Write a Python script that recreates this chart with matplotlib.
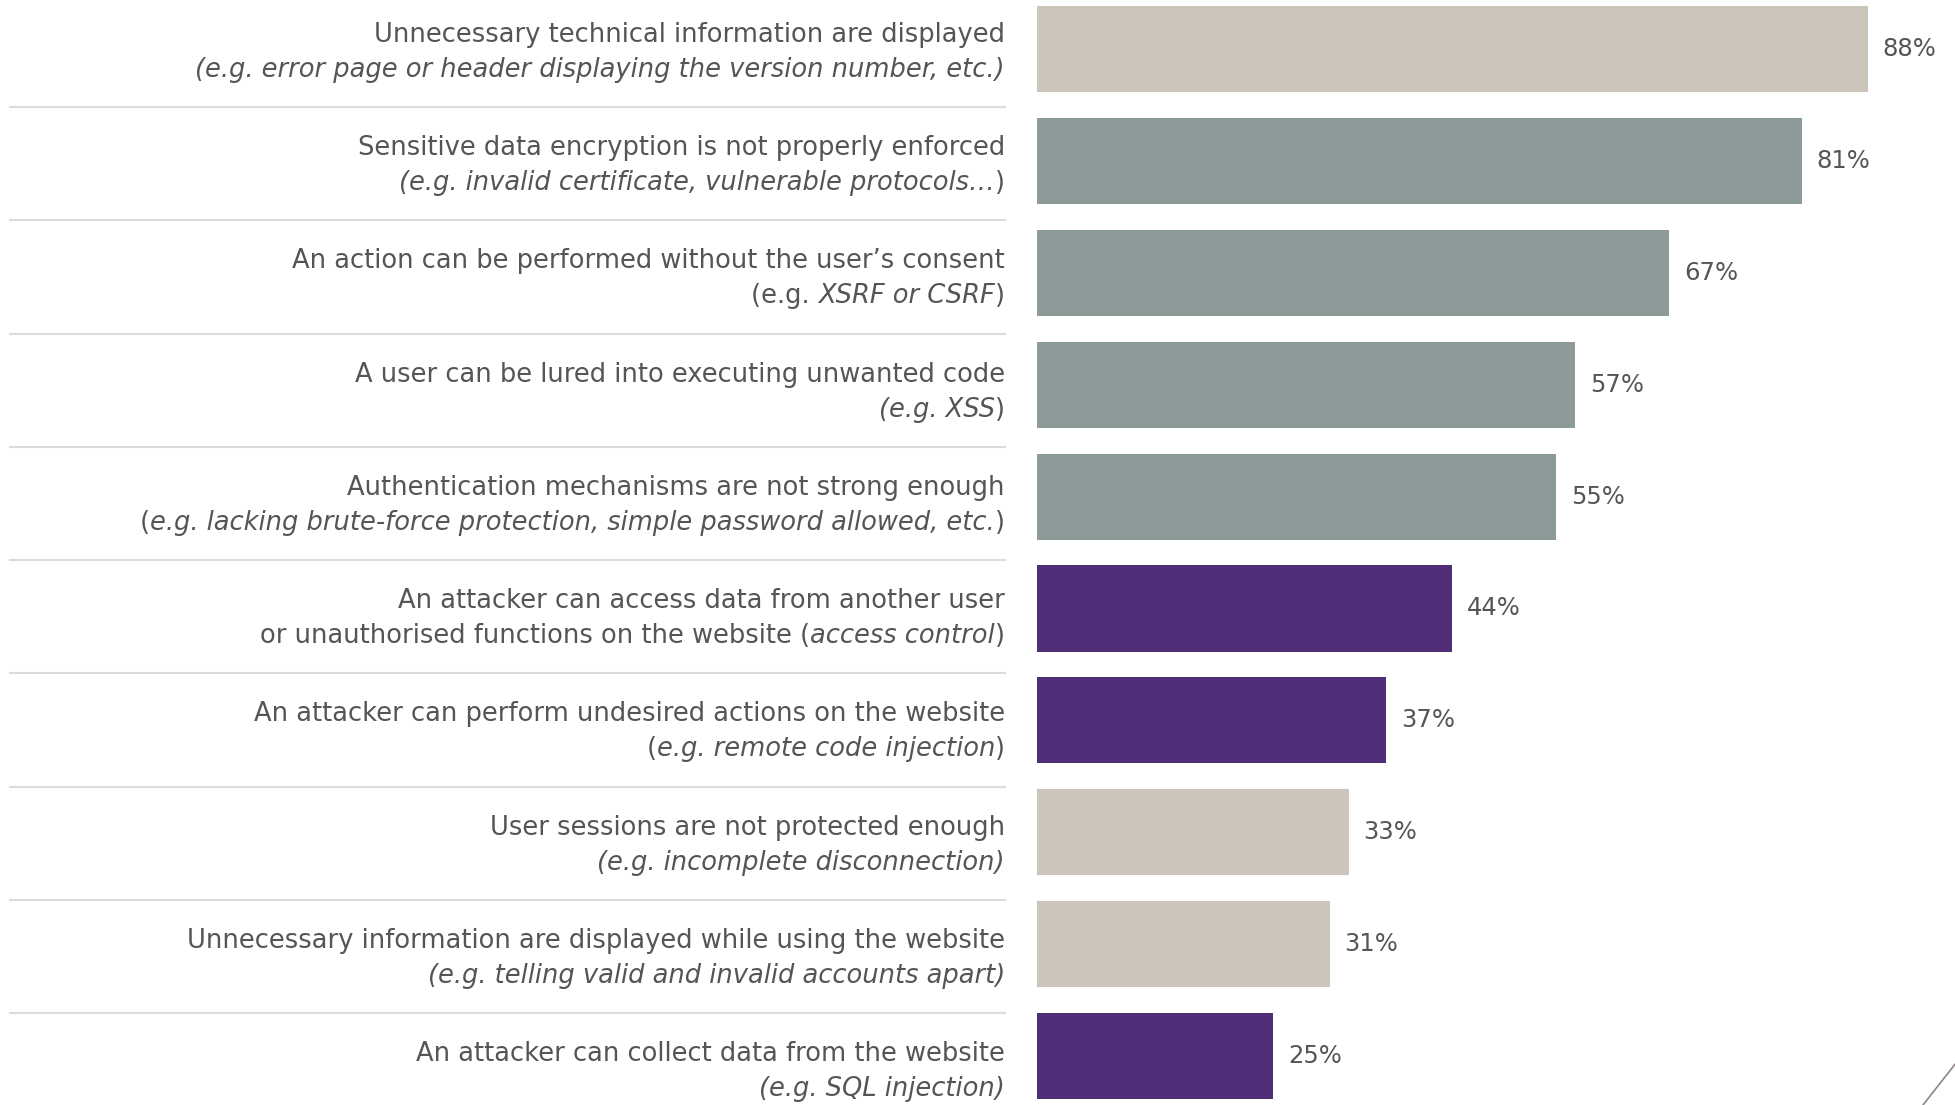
import matplotlib
matplotlib.use("Agg")
import matplotlib.pyplot as plt
from matplotlib.lines import Line2D

# values (percent of websites)
values = [88, 81, 67, 57, 55, 44, 37, 33, 31, 25]
value_labels = ["88%", "81%", "67%", "57%", "55%", "44%", "37%", "33%", "31%", "25%"]
bar_colors = ["#CCC5B9", "#8C9B9A", "#8C9B9A", "#8C9B9A", "#8C9B9A",
              "#4F2D77", "#4F2D77", "#CCC5B9", "#CCC5B9", "#4F2D77"]

# each label: first line (upright), second line as (text, italic?) pieces
titles = [
    "Unnecessary technical information are displayed",
    "Sensitive data encryption is not properly enforced",
    "An action can be performed without the user\u2019s consent",
    "A user can be lured into executing unwanted code",
    "Authentication mechanisms are not strong enough",
    "An attacker can access data from another user",
    "An attacker can perform undesired actions on the website",
    "User sessions are not protected enough",
    "Unnecessary information are displayed while using the website",
    "An attacker can collect data from the website",
]
details = [
    [("(e.g. error page or header displaying the version number, etc.)", True)],
    [("(e.g. invalid certificate, vulnerable protocols\u2026", True), (")", False)],
    [("(e.g. ", False), ("XSRF or CSRF", True), (")", False)],
    [("(e.g. XSS", True), (")", False)],
    [("(", False), ("e.g. lacking brute-force protection, simple password allowed, etc.", True), (")", False)],
    [("or unauthorised functions on the website (", False), ("access control", True), (")", False)],
    [("(", False), ("e.g. remote code injection", True), (")", False)],
    [("(e.g. incomplete disconnection)", True)],
    [("(e.g. telling valid and invalid accounts apart)", True)],
    [("(e.g. SQL injection)", True)],
]

W, H = 1956, 1105
TEXT = "#555555"
FS = 18.5
plt.rcParams["font.family"] = ["DejaVu Sans"]

fig = plt.figure(figsize=(W / 100, H / 100), dpi=100)

# bar area: left edge at px 1037, ~9.44 px per percent, bar pitch ~111.9 px
pitch = 111.9
top = 49 - pitch / 2
ax = fig.add_axes([1037 / W, (H - (top + pitch * 10)) / H, 944 / W, pitch * 10 / H])
ypos = list(range(len(values)))
ax.barh(ypos, values, height=0.77, color=bar_colors)
ax.set_xlim(0, 100)
ax.set_ylim(9.5, -0.5)
ax.axis("off")
for y, v, lab in zip(ypos, values, value_labels):
    ax.annotate(lab, (v, y), xytext=(15, 0), textcoords="offset pixels",
                va="center", ha="left", fontsize=17.5, color=TEXT)

# table-like separators and row labels on the left
sep_first, sep_step = 107, 113.25
for i in range(len(values) - 1):
    yy = 1 - (sep_first + sep_step * i) / H
    fig.add_artist(Line2D([10 / W, 1005 / W], [yy, yy], color="#DCDCDC", lw=1.5))

fig.canvas.draw()
renderer = fig.canvas.get_renderer()
xr = 1005


def put_line(pieces, baseline_px):
    # draw pieces right-aligned at xr, working from the last one leftwards
    texts = []
    for txt, it in pieces:
        t = fig.text(0, 1 - baseline_px / H, txt, fontsize=FS, color=TEXT,
                     style="italic" if it else "normal", ha="left", va="baseline")
        texts.append(t)
    x = xr
    for t in reversed(texts):
        w = t.get_window_extent(renderer).width
        x -= w
        t.set_x(x / W)


for i in range(len(titles)):
    if i == 0:
        yc = sep_first - sep_step / 2
    else:
        yc = sep_first + sep_step * (i - 1) + sep_step / 2
    put_line([(titles[i], False)], yc - 17.5 + 9)
    put_line(details[i], yc + 17.5 + 9)

# slide decoration in the bottom right corner
fig.add_artist(Line2D([1923 / W, 1.0], [0, (H - 1063) / H], color="#8F8585", lw=1.2))

fig.savefig("out.png", dpi=100)
